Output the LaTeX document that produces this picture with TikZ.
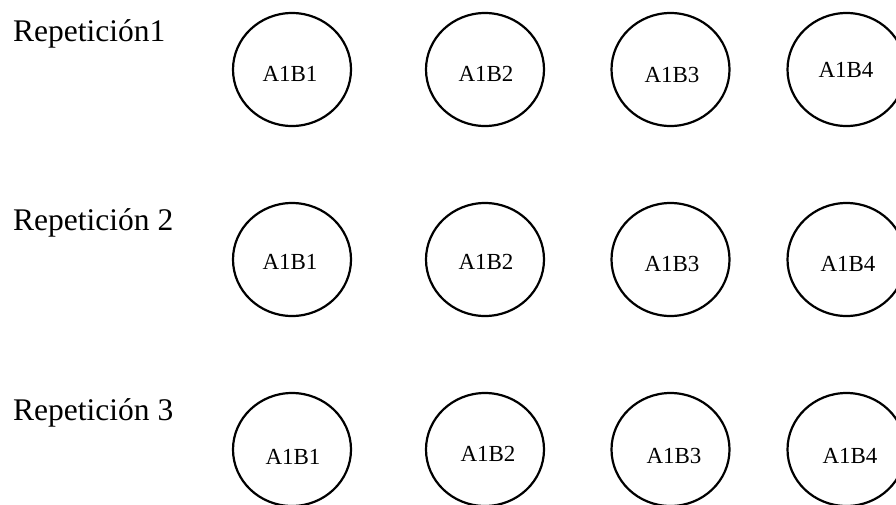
\documentclass[tikz,border=0pt]{standalone}
\usepackage{fontspec}
\setmainfont{Liberation Serif}
\usetikzlibrary{shapes.geometric}
\tikzset{
  plot/.style={ellipse, draw=black, line width=2.2pt, inner sep=0pt, minimum width=118pt, minimum height=113pt},
  plotlabel/.style={anchor=base, inner sep=0pt, font=\fontsize{23pt}{23pt}\selectfont},
  replabel/.style={anchor=base west, inner sep=0pt, font=\fontsize{31.5pt}{31.5pt}\selectfont}
}
\begin{document}
\begin{tikzpicture}[x=1pt,y=-1pt]
\useasboundingbox (0,0) rectangle (896,504);
\clip (0,0) rectangle (896,504);
% row headings
\node[replabel] (r1) at (13,41) {Repetición1};
\node[replabel] (r2) at (13,230.7) {Repetición 2};
\node[replabel] (r3) at (13,420) {Repetición 3};
% row 1
\node[plot] (c11) at (292,69.5) {};
\node[plot] (c12) at (485,69.5) {};
\node[plot] (c13) at (670.5,69.5) {};
\node[plot] (c14) at (846.5,69.5) {};
\node[plotlabel] (t11) at (290,81) {A1B1};
\node[plotlabel] (t12) at (486,81) {A1B2};
\node[plotlabel] (t13) at (672,82) {A1B3};
\node[plotlabel] (t14) at (846,77) {A1B4};
% row 2
\node[plot] (c21) at (292,259.5) {};
\node[plot] (c22) at (485,259.5) {};
\node[plot] (c23) at (670.5,259.5) {};
\node[plot] (c24) at (846.5,259.5) {};
\node[plotlabel] (t21) at (290,269) {A1B1};
\node[plotlabel] (t22) at (486,269) {A1B2};
\node[plotlabel] (t23) at (672,271) {A1B3};
\node[plotlabel] (t24) at (848,271) {A1B4};
% row 3
\node[plot] (c31) at (292,449.5) {};
\node[plot] (c32) at (485,449.5) {};
\node[plot] (c33) at (670.5,449.5) {};
\node[plot] (c34) at (846.5,449.5) {};
\node[plotlabel] (t31) at (293,464) {A1B1};
\node[plotlabel] (t32) at (488,461) {A1B2};
\node[plotlabel] (t33) at (674,463) {A1B3};
\node[plotlabel] (t34) at (850,463) {A1B4};
\end{tikzpicture}
\end{document}
